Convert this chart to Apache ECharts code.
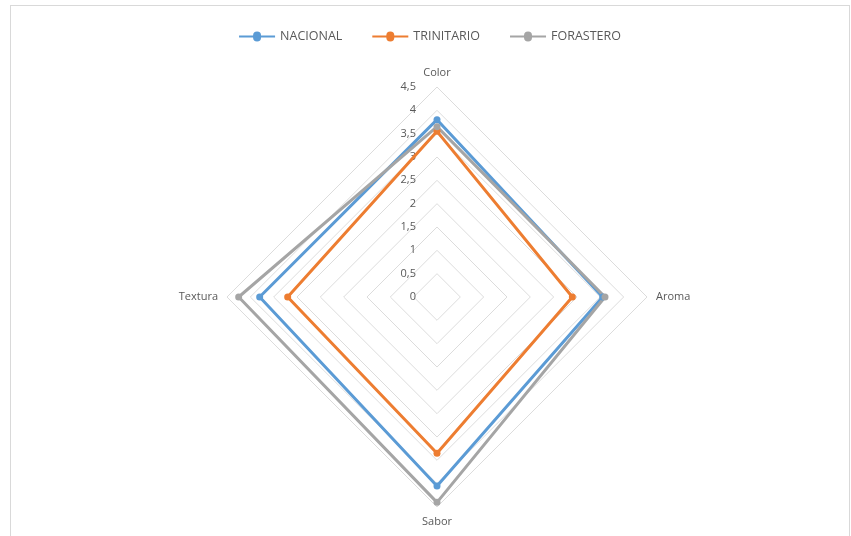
<!DOCTYPE html>
<html>
<head>
<meta charset="utf-8">
<script src="https://cdn.jsdelivr.net/npm/echarts@6/dist/echarts.min.js"></script>
<style>
  html, body { margin: 0; padding: 0; background: #fff; }
  #chart { position: absolute; left: 10px; top: 5px; width: 840px; height: 540px; border: 1px solid #d9d9d9; box-sizing: border-box; }
</style>
</head>
<body>
<div id="chart"></div>
<script>
  // indicadores en el orden del radar de ECharts (antihorario desde arriba)
  const indicators = ['Color', 'Textura', 'Sabor', 'Aroma'];
  const nacional = [3.8, 3.8, 4.05, 3.55];
  const trinitario = [3.55, 3.2, 3.35, 2.9];
  const forastero = [3.65, 4.25, 4.4, 3.6];
  const seriesNames = ['NACIONAL', 'TRINITARIO', 'FORASTERO'];
  const colors = ['#5B9BD5', '#ED7D31', '#A5A5A5'];
  const maxValue = 4.5;

  let chart = echarts.init(document.getElementById('chart'));
  const textColor = '#595959';
  const font = 'Open Sans';
  // icono de leyenda: línea con marcador circular
  const legendIcon = 'path://M0,4 L14,4 A4,4 0 1 1 22,4 L36,4 L36,6 L22,6 A4,4 0 1 1 14,6 L0,6 Z';

  const values = [nacional, trinitario, forastero];

  chart.setOption({
    animation: false,
    legend: {
      top: 19,
      left: 'center',
      icon: legendIcon,
      itemWidth: 36,
      itemHeight: 10,
      itemGap: 30,
      textStyle: { color: textColor, fontSize: 12.5, fontFamily: font },
      data: seriesNames.map((n, i) => ({ name: n, itemStyle: { color: colors[i] } }))
    },
    radar: {
      center: [426, 291],
      radius: 210,
      shape: 'polygon',
      splitNumber: 9,
      startAngle: 90,
      indicator: indicators.map((name, i) => ({
        name: name,
        min: 0,
        max: maxValue,
        axisLabel: { show: i === 0 }
      })),
      axisName: { color: textColor, fontSize: 11, fontFamily: font },
      nameGap: 9,
      splitArea: { show: false },
      splitLine: { lineStyle: { color: '#dcdcdc', width: 1 } },
      axisLine: { show: false },
      axisTick: { show: false },
      axisLabel: {
        show: false,
        color: textColor,
        fontSize: 11,
        fontFamily: font,
        margin: 21,
        formatter: v => String(+v.toFixed(1)).replace('.', ',')
      }
    },
    series: [{
      type: 'radar',
      symbol: 'circle',
      symbolSize: 7,
      data: seriesNames.map((n, i) => ({
        name: n,
        value: values[i],
        itemStyle: { color: colors[i] },
        lineStyle: { color: colors[i], width: 3 }
      }))
    }]
  });
</script>
</body>
</html>
